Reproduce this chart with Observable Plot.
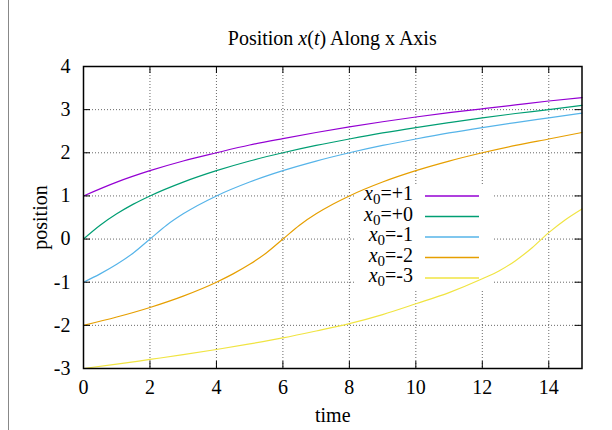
<!DOCTYPE html>
<html><head><meta charset="utf-8">
<script src="https://cdn.jsdelivr.net/npm/d3@7"></script>
<script src="https://cdn.jsdelivr.net/npm/@observablehq/plot@0.6"></script>
<style>html,body{margin:0;padding:0;background:#fff} svg{display:block}</style>
</head><body><div id="chart"></div>
<script>
// ---- data ----
const seriesLabels = ["+1", "+0", "-1", "-2", "-3"];
const seriesColors = ["#9400d3", "#009e73", "#56b4e9", "#e69f00", "#f0e442"];

const tPlus1 = [0,1,2,3,4,5,6,7,8,9,10,11,12,13,14,15];
const xPlus1 = [1,1.32,1.585,1.81,2.0,2.18,2.33,2.47,2.6,2.72,2.83,2.93,3.02,3.11,3.2,3.28];

const tZero = [0,0.5,1,1.5,2,3,4,5,6,7,8,9,10,11,12,13,14,15];
const xZero = [0,0.32,0.585,0.81,1,1.32,1.585,1.81,2,2.17,2.32,2.46,2.585,2.7,2.81,2.91,3.0,3.1];

const tMinus1 = [0,0.5,1,1.5,2,2.5,3,4,5,6,7,8,9,10,11,12,13,14,15];
const xMinus1 = [-1,-0.807,-0.585,-0.322,0,0.322,0.585,1,1.322,1.585,1.807,2.0,2.17,2.32,2.46,2.585,2.70,2.81,2.92];

const tMinus2 = [0,1,2,3,4,4.5,5,5.5,6,6.5,7,7.5,8,9,10,11,12,13,14,15];
const xMinus2 = [-2,-1.807,-1.585,-1.322,-1,-0.807,-0.585,-0.322,0,0.322,0.585,0.807,1,1.322,1.585,1.807,2,2.17,2.32,2.47];

const tMinus3 = [0,1,2,3,4,5,6,7,8,9,10,11,12,12.5,13,13.5,14,14.5,15];
const xMinus3 = [-3,-2.9,-2.79,-2.68,-2.56,-2.43,-2.29,-2.13,-1.96,-1.75,-1.5,-1.24,-0.92,-0.74,-0.5,-0.2,0.15,0.45,0.7];

const xTicks = [0,2,4,6,8,10,12,14];
const yTicks = [-3,-2,-1,0,1,2,3,4];

const titleParts = [["Position ", false], ["x", true], ["(", false], ["t", true], [") Along x Axis", false]];
const xLabel = "time";
const yLabel = "position";

// ---- build table ----
const seriesT = [tPlus1, tZero, tMinus1, tMinus2, tMinus3];
const seriesX = [xPlus1, xZero, xMinus1, xMinus2, xMinus3];
const rows = [];
seriesLabels.forEach((s, i) => seriesT[i].forEach((t, j) => rows.push({series: s, t, x: seriesX[i][j]})));

const W = 612, H = 430, mL = 83, mR = 30.5, mT = 66, mB = 62;
const plotH = H - mT - mB, plotW = W - mL - mR;
const FONT = "Liberation Serif, Times New Roman, serif";
const FS = 20;
const tickLen = 7;

const lineMarks = seriesLabels.map((s, i) =>
  Plot.line(rows.filter(r => r.series === s), {x: "t", y: "x", stroke: seriesColors[i], strokeWidth: 1.2, curve: "monotone-x"})
);

const chart = Plot.plot({
  width: W, height: H,
  marginLeft: mL, marginRight: mR, marginTop: mT, marginBottom: mB,
  x: {domain: [0, 15]},
  y: {domain: [-3, 4]},
  style: {fontFamily: FONT, fontSize: FS + "px", background: "#fff", color: "#000"},
  marks: [
    Plot.gridX(xTicks.filter(d => d > 0), {stroke: "#000", strokeOpacity: 0.75, strokeWidth: 0.8, strokeDasharray: "1,2"}),
    Plot.gridY(yTicks.filter(d => d > -3 && d < 4), {stroke: "#000", strokeOpacity: 0.75, strokeWidth: 0.8, strokeDasharray: "1,2"}),
    ...lineMarks,
    // inward ticks, mirrored on all four sides
    Plot.ruleX(xTicks, {x: d => d, insetTop: plotH - tickLen, stroke: "#000", strokeWidth: 1}),
    Plot.ruleX(xTicks, {x: d => d, insetBottom: plotH - tickLen, stroke: "#000", strokeWidth: 1}),
    Plot.ruleY(yTicks, {y: d => d, insetRight: plotW - tickLen, stroke: "#000", strokeWidth: 1}),
    Plot.ruleY(yTicks, {y: d => d, insetLeft: plotW - tickLen, stroke: "#000", strokeWidth: 1}),
    Plot.frame({stroke: "#000", strokeWidth: 1.5}),
    Plot.axisX(xTicks, {tickSize: 0, tickPadding: 11, label: null, fontSize: FS, fontFamily: FONT, fontVariant: "normal", tickFormat: d => String(d)}),
    Plot.axisY(yTicks, {tickSize: 0, tickPadding: 13, label: null, fontSize: FS, fontFamily: FONT, fontVariant: "normal", tickFormat: d => String(d)}),
    Plot.text([xLabel], {frameAnchor: "bottom", dy: 53, fontSize: FS, fontFamily: FONT}),
    Plot.text([yLabel], {frameAnchor: "left", dx: -43, rotate: -90, textAnchor: "middle", fontSize: FS, fontFamily: FONT})
  ]
});

document.getElementById("chart").appendChild(chart);
const svg = d3.select(chart);

// legend opaque box behind curves
const firstLine = chart.querySelector('g[aria-label="line"]');
const box = document.createElementNS("http://www.w3.org/2000/svg", "rect");
box.setAttribute("x", 355); box.setAttribute("y", 185);
box.setAttribute("width", 137); box.setAttribute("height", 104);
box.setAttribute("fill", "#fff");
firstLine.parentNode.insertBefore(box, firstLine);

// legend entries
const leg = svg.append("g").attr("font-family", FONT).attr("font-size", FS);
seriesLabels.forEach((s, i) => {
  const y = 196 + i * 20.5;
  const t = leg.append("text").attr("x", 413).attr("y", y + 4).attr("text-anchor", "end");
  t.append("tspan").attr("font-style", "italic").text("x");
  t.append("tspan").attr("font-size", 15).attr("dy", 4).text("0");
  t.append("tspan").attr("dy", -4).text("=" + s);
  leg.append("line").attr("x1", 425).attr("x2", 479).attr("y1", y).attr("y2", y)
    .attr("stroke", seriesColors[i]).attr("stroke-width", 1.5);
});

// title
const title = svg.append("text").attr("x", mL + plotW / 2).attr("y", 45)
  .attr("text-anchor", "middle").attr("font-family", FONT).attr("font-size", FS);
titleParts.forEach(([txt, it]) => {
  const sp = title.append("tspan").text(txt);
  if (it) sp.attr("font-style", "italic");
});

// page-edge artefact seen at the left of the reference
svg.append("line").attr("x1", 8.5).attr("x2", 8.5).attr("y1", 0).attr("y2", H)
  .attr("stroke", "#888").attr("stroke-width", 1);
</script>
</body></html>
